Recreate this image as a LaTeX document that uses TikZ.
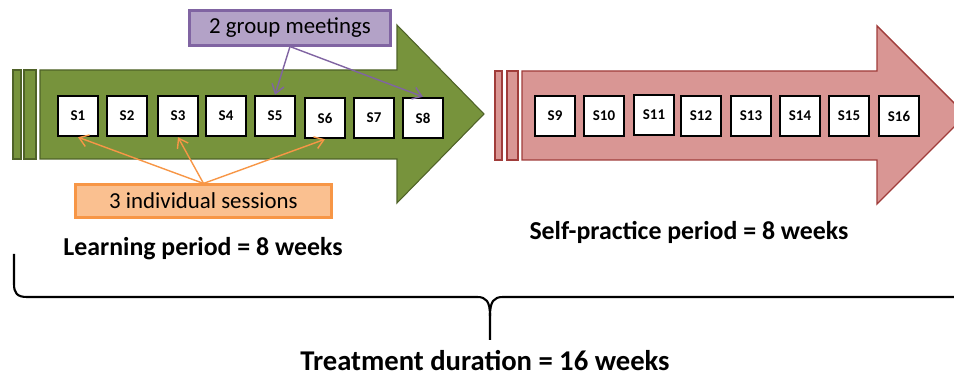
\documentclass[tikz,border=0pt]{standalone}
\usepackage{fontspec}
\setmainfont{Carlito}
\usetikzlibrary{arrows.meta}
\definecolor{learnfill}{RGB}{119,147,60}
\definecolor{learndraw}{RGB}{79,98,40}
\definecolor{selffill}{RGB}{217,150,148}
\definecolor{selfdraw}{RGB}{160,60,58}
\definecolor{groupfill}{RGB}{179,162,199}
\definecolor{groupdraw}{RGB}{128,100,162}
\definecolor{indivfill}{RGB}{250,192,144}
\definecolor{indivdraw}{RGB}{247,150,70}

\begin{document}
\begin{tikzpicture}[x=0.02cm,y=-0.02cm,
    every path/.style={>={Straight Barb[length=5pt,width=7pt]}},
    session/.style={draw=black,line width=1.4pt,fill=white,minimum width=0.8cm,minimum height=0.8cm,inner sep=0pt,font=\bfseries\fontsize{8.5}{10}\selectfont},
    callout/.style={line width=1.2pt,inner sep=0pt,font=\fontsize{13}{15}\selectfont},
    period/.style={font=\bfseries\fontsize{14.7}{17}\selectfont}]
    \useasboundingbox (0,0) rectangle (954,378);
    % learning arrow
    \draw[learndraw,fill=learnfill,line width=0.6pt] (13,70) rectangle (21,159);
    \draw[learndraw,fill=learnfill,line width=0.6pt] (24,70) rectangle (36,159);
    \draw[learndraw,fill=learnfill,line width=0.6pt] (40,70) -- (397,70) -- (397,25) -- (484,114) -- (397,203) -- (397,159) -- (40,159) -- cycle;
    % self-practice arrow
    \draw[selfdraw,fill=selffill,line width=0.8pt] (495,71) rectangle (502,160);
    \draw[selfdraw,fill=selffill,line width=0.8pt] (507,71) rectangle (518,160);
    \draw[selfdraw,fill=selffill,line width=0.8pt] (522,71) -- (877,71) -- (877,26) -- (966,115) -- (877,204) -- (877,160) -- (522,160) -- cycle;
    % sessions
    \node[session] (s1) at (78,116) {S1};
    \node[session] (s2) at (127,116) {S2};
    \node[session] (s3) at (178,116) {S3};
    \node[session] (s4) at (226,116) {S4};
    \node[session] (s5) at (275,116) {S5};
    \node[session] (s6) at (325,118) {S6};
    \node[session] (s7) at (374,118) {S7};
    \node[session] (s8) at (423,118) {S8};
    \node[session] (s9) at (555,116) {S9};
    \node[session] (s10) at (604,116) {S10};
    \node[session] (s11) at (654,115) {S11};
    \node[session] (s12) at (701,116) {S12};
    \node[session] (s13) at (751,116) {S13};
    \node[session] (s14) at (800,116) {S14};
    \node[session] (s15) at (849,116) {S15};
    \node[session] (s16) at (899,116) {S16};
    % callouts
    \node[callout,draw=groupdraw,fill=groupfill,minimum width=4.02cm,minimum height=0.7cm] (group) at (290,28) {2 group meetings};
    \node[callout,draw=indivdraw,fill=indivfill,minimum width=5.12cm,minimum height=0.66cm] (indiv) at (203.5,201) {3 individual sessions};
    \draw[->,groupdraw,line width=0.8pt] (group.south) -- (s5.north);
    \draw[->,groupdraw,line width=0.8pt] (group.south) -- (s8.north);
    \draw[->,indivdraw,line width=0.8pt] (indiv.north) -- (s1.south);
    \draw[->,indivdraw,line width=0.8pt] (indiv.north) -- (s3.south);
    \draw[->,indivdraw,line width=0.8pt] (indiv.north) -- (s6.south);
    % periods
    \node[period] (learn) at (203,249) {Learning period = 8 weeks};
    \node[period] (self) at (689,232) {Self-practice period = 8 weeks};
    \draw[line width=1.2pt] (14,254) -- (14,284) .. controls (14,293) and (17,297) .. (27,297) -- (477,297) .. controls (486,297) and (490,301) .. (490,316) -- (490,340);
    \draw[line width=1.2pt] (490,316) .. controls (490,301) and (494,297) .. (503,297) -- (953,297) .. controls (963,297) and (966,293) .. (966,284) -- (966,254);
    \node[period,font=\bfseries\fontsize{16.3}{19}\selectfont] (total) at (485,361) {Treatment duration = 16 weeks};
\end{tikzpicture}
\end{document}
